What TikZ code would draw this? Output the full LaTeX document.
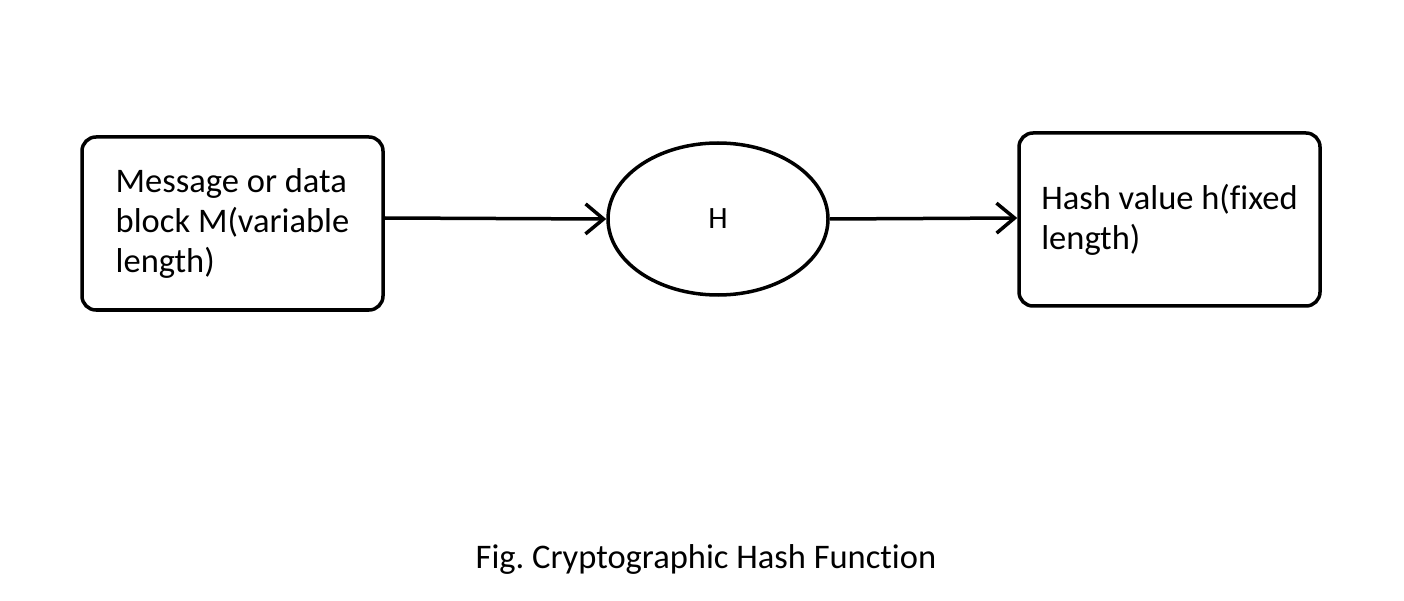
\documentclass[tikz,border=0pt]{standalone}
\usepackage{fontspec}
\setmainfont[Ligatures=NoCommon]{Carlito}
\usetikzlibrary{arrows.meta,shapes.geometric}
\frenchspacing
\begin{document}
\begin{tikzpicture}[x=1pt,y=-1pt,
  box/.style={draw,line width=3.5pt,rounded corners=14pt,minimum width=301pt,minimum height=173pt,align=left,inner sep=0pt,font=\fontsize{34.5}{40}\selectfont},
  oval/.style={draw,ellipse,line width=3.5pt,minimum width=220pt,minimum height=152pt,inner sep=0pt,font=\fontsize{31}{36}\selectfont},
  conn/.style={line width=3.5pt,-{Straight Barb[length=18pt,width=30pt,line width=3.5pt]}},
  captext/.style={font=\fontsize{34.5}{40}\selectfont}]
\useasboundingbox (0,0) rectangle (1404,601);
\node[box] (msg) at (232.5,223.5) {Message or data\\block M(variable\\length)};
\node[oval] (h) at (718,219) {H};
\node[box] (hash) at (1169.5,219.5) {Hash value h(fixed\\length)};
\draw[conn] (msg.east |- 0,218) -- (h.west);
\draw[conn] (h.east) -- (hash.west |- 0,218);
\node[captext,anchor=base] (caption) at (706,568) {Fig. Cryptographic Hash Function};
\end{tikzpicture}
\end{document}
